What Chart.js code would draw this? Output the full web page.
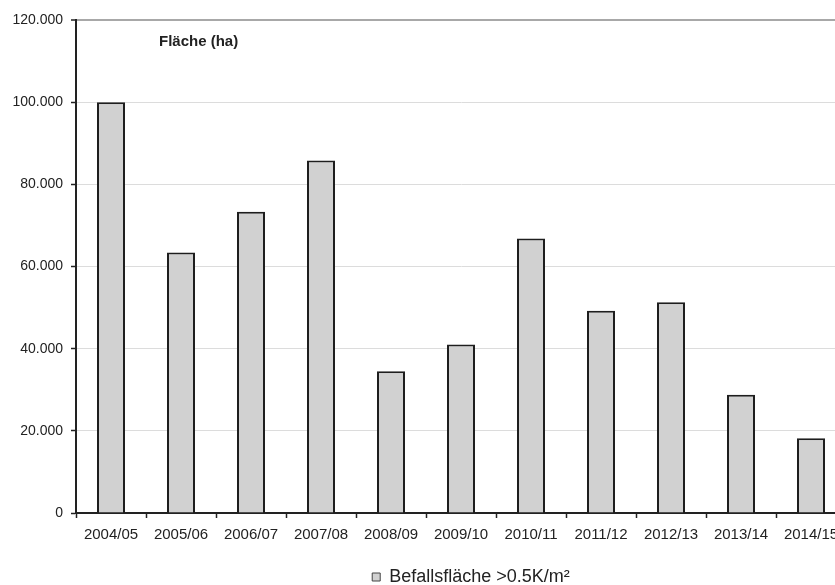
<!DOCTYPE html>
<html lang="de">
<head>
<meta charset="utf-8">
<title>Befallsfläche</title>
<script src="https://cdn.jsdelivr.net/npm/chart.js@4/dist/chart.umd.min.js"></script>
<style>
  html, body { margin: 0; padding: 0; background: #fff; overflow: hidden; }
  #wrap { position: relative; width: 850px; height: 596px; }
</style>
</head>
<body>
<div id="wrap"><canvas id="chart"></canvas></div>
<script>
// Wirtschaftsjahre
const seasons = ['2004/05', '2005/06', '2006/07', '2007/08', '2008/09', '2009/10',
                 '2010/11', '2011/12', '2012/13', '2013/14', '2014/15'];
// Befallsfläche in Hektar
const infestedArea = [100000, 63400, 73300, 85800, 34500, 41000,
                      66800, 49200, 51300, 28800, 18200];
const seriesLabel = 'Befallsfläche >0.5K/m²';
const unitLabel = 'Fläche (ha)';
const yMax = 120000;
const yStep = 20000;

const fmt = new Intl.NumberFormat('de-DE');
const FONT = "'Liberation Sans', Arial, sans-serif";

// Einheitenbeschriftung oben links im Diagrammbereich
const unitText = {
  id: 'unitText',
  afterDraw(chart) {
    const { ctx, chartArea } = chart;
    ctx.save();
    ctx.font = `bold 15px ${FONT}`;
    ctx.fillStyle = '#222';
    ctx.textBaseline = 'middle';
    ctx.textAlign = 'left';
    ctx.fillText(unitLabel, chartArea.left + 83, chartArea.top + 22);
    ctx.restore();
  }
};

// Legende etwas nach rechts versetzen
const legendShift = {
  id: 'legendShift',
  afterLayout(chart) {
    const lg = chart.legend;
    if (lg) { lg.left += 10; lg.right += 10; }
  }
};

new Chart(document.getElementById('chart'), {
  type: 'bar',
  data: {
    labels: seasons,
    datasets: [{
      label: seriesLabel,
      data: infestedArea,
      backgroundColor: '#d1d1d1',
      borderColor: '#1e1e1e',
      borderWidth: 2,
      borderSkipped: 'bottom',
      categoryPercentage: 1.0,
      barPercentage: 0.4
    }]
  },
  options: {
    responsive: true,
    maintainAspectRatio: false,
    animation: false,
    layout: { padding: { top: 20, right: 4, left: 0, bottom: 0 } },
    plugins: {
      tooltip: { enabled: false },
      legend: {
        position: 'bottom',
        fullSize: false,
        labels: {
          font: { family: FONT, size: 18 },
          color: '#222',
          boxWidth: 8,
          boxHeight: 8,
          padding: 16,
          generateLabels(chart) {
            const ds = chart.data.datasets[0];
            return [{
              text: ds.label,
              fillStyle: ds.backgroundColor,
              strokeStyle: '#444',
              lineWidth: 1,
              fontColor: '#222',
              datasetIndex: 0
            }];
          }
        }
      }
    },
    scales: {
      x: {
        offset: true,
        grid: {
          offset: true,
          drawOnChartArea: false,
          drawTicks: true,
          tickLength: 5,
          tickColor: '#222',
          tickWidth: 1.5
        },
        border: { color: '#222', width: 2 },
        ticks: {
          font: { family: FONT, size: 15 },
          color: '#222',
          padding: 8,
          maxRotation: 0,
          autoSkip: false
        }
      },
      y: {
        min: 0,
        max: yMax,
        afterFit(scale) { scale.width = 76; },
        grid: {
          color: (c) => (c.tick && c.tick.value === yMax) ? '#a8a8a8' : '#dcdcdc',
          lineWidth: (c) => (c.tick && c.tick.value === yMax) ? 2 : 1,
          tickLength: 5,
          tickColor: '#222',
          tickWidth: 1.5
        },
        border: { color: '#222', width: 2 },
        ticks: {
          stepSize: yStep,
          font: { family: FONT, size: 14 },
          color: '#222',
          padding: 8,
          callback: (v) => fmt.format(v)
        }
      }
    }
  },
  plugins: [unitText, legendShift]
});
</script>
</body>
</html>
